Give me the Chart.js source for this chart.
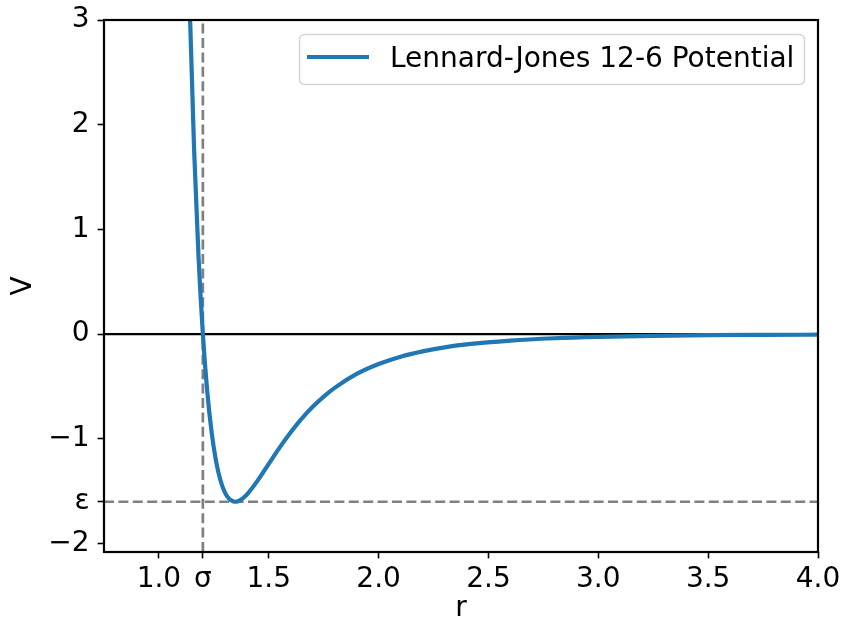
<!DOCTYPE html>
<html>
<head>
<meta charset="utf-8">
<title>Lennard-Jones 12-6 Potential</title>
<script src="https://cdn.jsdelivr.net/npm/chart.js@4/dist/chart.umd.min.js"></script>
<style>
  html, body { margin: 0; padding: 0; background: #fff; }
  #chart { display: block; }
</style>
</head>
<body>
<canvas id="chart" width="842" height="623"></canvas>
<script>
// Potential curve V(r)
const rValues = [1.12, 1.14, 1.16, 1.18, 1.20, 1.22, 1.24, 1.26, 1.28, 1.30, 1.32, 1.34, 1.347, 1.36, 1.38,
    1.40, 1.45, 1.50, 1.55, 1.60, 1.65, 1.70, 1.75, 1.80, 1.90, 2.00, 2.10, 2.20, 2.30, 2.40, 2.60,
    2.80, 3.00, 3.25, 3.50, 3.75, 4.00];
const vValues = [4.96, 3.14, 1.77, 0.751, 0.0, -0.547, -0.939, -1.212, -1.395, -1.510, -1.573, -1.598, -1.600, -1.595, -1.571,
    -1.532, -1.396, -1.238, -1.081, -0.936, -0.807, -0.694, -0.596, -0.513, -0.380, -0.285, -0.215, -0.164, -0.126, -0.098, -0.061,
    -0.039, -0.026, -0.016, -0.010, -0.007, -0.005];

// Reference markers
const sigmaR = 1.2;
const epsilonV = -1.6;

// Axis limits and ticks
const xLimits = [0.75, 4.0];
const yLimits = [-2.08, 3.0];
const xTickValues = [1.0, 1.2, 1.5, 2.0, 2.5, 3.0, 3.5, 4.0];
const xTickLabels = ['1.0', 'σ', '1.5', '2.0', '2.5', '3.0', '3.5', '4.0'];
const yTickValues = [-2, -1.6, -1, 0, 1, 2, 3];
const yTickLabels = ['−2', 'ε', '−1', '0', '1', '2', '3'];

const seriesLabel = 'Lennard-Jones 12-6 Potential';

const FONT = 'DejaVu Sans';
const FONT_SIZE = 28;
const BLUE = '#1f77b4';

const curvePoints = rValues.map((r, i) => ({ x: r, y: vValues[i] }));

function fixedTicks(values) {
    return scale => { scale.ticks = values.map(v => ({ value: v })); };
}

function labelFor(values, labels) {
    return value => {
        const i = values.findIndex(v => Math.abs(v - value) < 1e-9);
        return i >= 0 ? labels[i] : '';
    };
}

// Legend box in the upper right, drawn inside the plot
const legendBox = {
    id: 'legendBox',
    afterDraw(chart) {
        const ctx = chart.ctx;
        const x = 299, y = 34, w = 505, h = 50, rad = 5;
        ctx.save();
        ctx.beginPath();
        ctx.roundRect(x + 0.5, y + 0.5, w, h, rad);
        ctx.fillStyle = 'rgba(255,255,255,0.8)';
        ctx.fill();
        ctx.strokeStyle = '#d5d5d5';
        ctx.lineWidth = 1.5;
        ctx.stroke();

        ctx.beginPath();
        ctx.moveTo(307, 57);
        ctx.lineTo(369, 57);
        ctx.strokeStyle = BLUE;
        ctx.lineWidth = 4.2;
        ctx.stroke();

        ctx.fillStyle = '#000';
        ctx.font = `${FONT_SIZE}px "${FONT}"`;
        ctx.textBaseline = 'alphabetic';
        ctx.textAlign = 'left';
        ctx.fillText(seriesLabel, 390, 67);
        ctx.restore();
    }
};

// Full box around the axes
const frame = {
    id: 'frame',
    afterDatasetsDraw(chart) {
        const { left, top, right, bottom } = chart.chartArea;
        const ctx = chart.ctx;
        ctx.save();
        ctx.strokeStyle = '#000';
        ctx.lineWidth = 2.2;
        ctx.strokeRect(left, top, right - left, bottom - top);
        ctx.restore();
    }
};

function fitAxis(size, horizontal) {
    return scale => {
        if (horizontal) scale.height = size; else scale.width = size;
        scale.paddingTop = 0;
        scale.paddingBottom = 0;
        scale.paddingLeft = 0;
        scale.paddingRight = 0;
    };
}

const tickGrid = {
    drawOnChartArea: false,
    drawTicks: true,
    tickLength: 6.4,
    tickWidth: 1.6,
    tickColor: '#000'
};

new Chart(document.getElementById('chart'), {
    type: 'line',
    data: {
        datasets: [
            {
                label: seriesLabel,
                data: curvePoints,
                borderColor: BLUE,
                borderWidth: 4.2,
                pointRadius: 0,
                cubicInterpolationMode: 'monotone',
                clip: 0
            },
            {
                label: 'zero',
                data: [{ x: xLimits[0], y: 0 }, { x: xLimits[1], y: 0 }],
                borderColor: '#000',
                borderWidth: 2.4,
                pointRadius: 0,
                clip: 0
            },
            {
                label: 'epsilon',
                data: [{ x: xLimits[0], y: epsilonV }, { x: xLimits[1], y: epsilonV }],
                borderColor: '#808080',
                borderWidth: 2.7,
                borderDash: [10, 4.4],
                pointRadius: 0,
                clip: 0
            },
            {
                label: 'sigma',
                data: [{ x: sigmaR, y: yLimits[0] }, { x: sigmaR, y: yLimits[1] }],
                borderColor: '#808080',
                borderWidth: 2.7,
                borderDash: [10, 4.4],
                pointRadius: 0,
                clip: 0
            }
        ]
    },
    options: {
        responsive: false,
        devicePixelRatio: 1,
        animation: false,
        layout: { padding: { top: 20, right: 24, left: 0, bottom: 0 } },
        plugins: {
            legend: { display: false },
            tooltip: { enabled: false }
        },
        scales: {
            x: {
                type: 'linear',
                position: 'bottom',
                min: xLimits[0],
                max: xLimits[1],
                afterBuildTicks: fixedTicks(xTickValues),
                afterFit: fitAxis(71, true),
                grid: tickGrid,
                border: { display: false },
                ticks: {
                    autoSkip: false,
                    maxRotation: 0,
                    padding: 5,
                    color: '#000',
                    font: { family: FONT, size: FONT_SIZE },
                    callback: labelFor(xTickValues, xTickLabels)
                },
                title: {
                    display: true,
                    text: 'r',
                    color: '#000',
                    font: { family: FONT, size: FONT_SIZE, lineHeight: 1 },
                    padding: { top: 0, bottom: 0 }
                }
            },
            y: {
                type: 'linear',
                min: yLimits[0],
                max: yLimits[1],
                afterBuildTicks: fixedTicks(yTickValues),
                afterFit: fitAxis(104, false),
                grid: tickGrid,
                border: { display: false },
                ticks: {
                    autoSkip: false,
                    padding: 8,
                    color: '#000',
                    font: { family: FONT, size: FONT_SIZE },
                    callback: labelFor(yTickValues, yTickLabels)
                },
                title: {
                    display: true,
                    text: 'V',
                    color: '#000',
                    font: { family: FONT, size: FONT_SIZE, lineHeight: 1 },
                    padding: { top: 10, bottom: 0 }
                }
            }
        }
    },
    plugins: [frame, legendBox]
});
</script>
</body>
</html>
